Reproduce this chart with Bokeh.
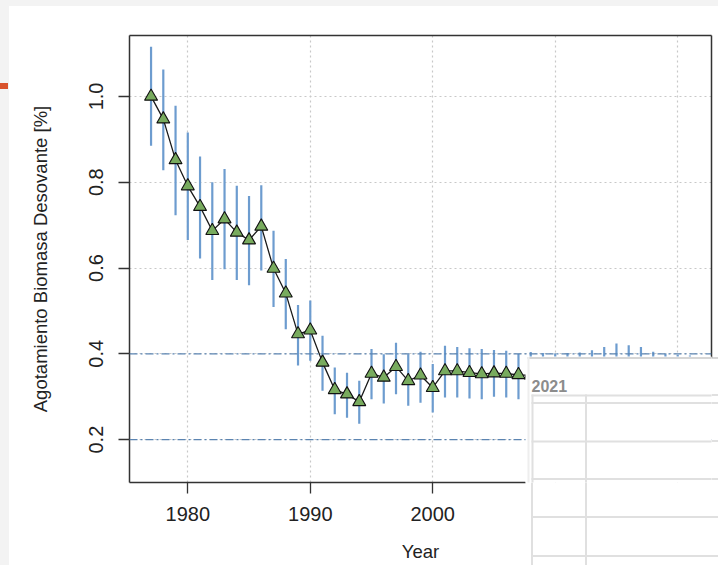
from bokeh.plotting import figure
from bokeh.models import (ColumnDataSource, FixedTicker, Span, BoxAnnotation, Label,
                          Range1d, LinearAxis)
from bokeh.embed import file_html
from bokeh.resources import INLINE

years = list(range(1977, 2022))
depletion = [1.000, 0.947, 0.852, 0.791, 0.743, 0.687, 0.714, 0.683, 0.665, 0.697,
             0.599, 0.541, 0.446, 0.455, 0.380, 0.316, 0.306, 0.288, 0.354, 0.345,
             0.370, 0.337, 0.350, 0.321, 0.360, 0.360, 0.356, 0.353, 0.355, 0.354,
             0.351, 0.350, 0.348, 0.347, 0.348, 0.350, 0.352, 0.358, 0.363, 0.361,
             0.357, 0.350, 0.345, 0.342, 0.340]
lower = [0.885, 0.828, 0.723, 0.665, 0.622, 0.572, 0.597, 0.572, 0.560, 0.594,
         0.509, 0.457, 0.373, 0.384, 0.314, 0.259, 0.251, 0.237, 0.294, 0.284,
         0.306, 0.279, 0.286, 0.263, 0.298, 0.298, 0.296, 0.294, 0.300, 0.298,
         0.294, 0.292, 0.290, 0.288, 0.289, 0.291, 0.292, 0.298, 0.301, 0.300,
         0.297, 0.292, 0.287, 0.285, 0.283]
upper = [1.116, 1.063, 0.978, 0.916, 0.860, 0.800, 0.831, 0.792, 0.768, 0.793,
         0.687, 0.621, 0.514, 0.524, 0.442, 0.368, 0.356, 0.337, 0.411, 0.399,
         0.426, 0.399, 0.405, 0.376, 0.419, 0.416, 0.413, 0.411, 0.409, 0.407,
         0.400, 0.404, 0.402, 0.401, 0.402, 0.403, 0.408, 0.416, 0.424, 0.420,
         0.416, 0.405, 0.400, 0.398, 0.396]
reference_levels = [0.4, 0.2]
x_ticks = [1980, 1990, 2000, 2010, 2020]
y_ticks = [0.2, 0.4, 0.6, 0.8, 1.0]
y_tick_labels = ["0.2", "0.4", "0.6", "0.8", "1.0"]
x_label = "Year"
y_label = "Agotamiento Biomasa Desovante [%]"
overlay_title = "2021"

src = ColumnDataSource(dict(year=years, dep=depletion, lo=lower, hi=upper))

FONT = "Liberation Sans"
X0, X1 = 1975.24, 2022.76
Y0, Y1 = 0.100, 1.142
PANEL_X = 2007.55   # where the overlapping table panel starts (bottom edge hidden beyond)

# background of the page (behind the transparent plot border)
layers = []
def css_rect(x, y, w, h, color):
    layers.append(f"linear-gradient({color},{color}) {x}px {y}px / {w}px {h}px no-repeat")

css_rect(0, 83, 8, 6, "#d9532c")
css_rect(0, 0, 9, 565, "#f3f3f3")
css_rect(0, 0, 718, 6, "#f3f3f3")
css_rect(527, 356.5, 191, 2, "#d6d6d6")
for yy in [394, 401.5, 440, 477.5, 516, 554.5]:
    css_rect(531, yy, 187, 2, "#e0e0e0")
for xx in [531, 584.5]:
    css_rect(xx, 394, 2, 171, "#e0e0e0")

p = figure(width=718, height=565, output_backend="svg", toolbar_location=None,
           x_range=Range1d(X0, X1), y_range=Range1d(Y0, Y1),
           min_border_left=129, min_border_right=7, min_border_top=35, min_border_bottom=83)
p.background_fill_color = "white"
p.border_fill_color = None
p.outline_line_color = None
p.styles = {"background": ", ".join(layers) + ", #ffffff"}

for ax in (p.xaxis[0], p.yaxis[0]):
    ax.axis_line_color = "#333333"
    ax.axis_line_width = 1.5
    ax.major_tick_in = 0
    ax.major_tick_out = 11
    ax.major_tick_line_color = "#333333"
    ax.major_tick_line_width = 1.3
    ax.minor_tick_line_color = None
    ax.major_label_text_font = FONT
    ax.major_label_text_font_size = "20px"
    ax.major_label_text_color = "#222222"
    ax.axis_label_text_font = FONT
    ax.axis_label_text_font_size = "18.5px"
    ax.axis_label_text_font_style = "normal"
    ax.axis_label_text_color = "#222222"

p.xaxis.ticker = FixedTicker(ticks=[t for t in x_ticks if t < PANEL_X])
p.xgrid.ticker = FixedTicker(ticks=x_ticks)
p.xaxis.bounds = (X0, PANEL_X)
p.yaxis.ticker = FixedTicker(ticks=y_ticks)
p.ygrid.ticker = FixedTicker(ticks=y_ticks)
p.yaxis.major_label_overrides = dict(zip(y_ticks, y_tick_labels))
p.yaxis.major_label_orientation = "vertical"
p.xaxis.axis_label = x_label
p.yaxis.axis_label = y_label
p.xaxis.major_label_standoff = 13
p.xaxis.axis_label_standoff = 17
p.yaxis.major_label_standoff = 15
p.yaxis.axis_label_standoff = 36

# top and right edges of the box
top_ax = LinearAxis(ticker=FixedTicker(ticks=[]), axis_line_color="#333333", axis_line_width=1.5,
                    major_tick_line_color=None, minor_tick_line_color=None)
right_ax = LinearAxis(ticker=FixedTicker(ticks=[]), axis_line_color="#333333", axis_line_width=1.5,
                      major_tick_line_color=None, minor_tick_line_color=None, bounds=(0.391, Y1))
p.add_layout(top_ax, "above")
p.add_layout(right_ax, "right")

for g in (p.xgrid[0], p.ygrid[0]):
    g.grid_line_color = "#c8c8c8"
    g.grid_line_dash = "2 3"
    g.grid_line_width = 1.2

for lvl in reference_levels:
    p.add_layout(Span(location=lvl, dimension="width", line_color="#5b84b1",
                      line_width=1.3, line_dash="8 3 2 3"))

p.segment(x0="year", y0="lo", x1="year", y1="hi", source=src,
          line_color="#6d9ccf", line_width=2.2)
p.line(x="year", y="dep", source=src, line_color="#1a1a1a", line_width=1.3)
p.scatter(x="year", y="dep", source=src, marker="triangle", size=13,
          fill_color="#78ab5e", line_color="#111111", line_width=1.1)

# overlapping table panel (decoration, canvas pixels; inside the frame)
def box(l, r, t, b, color):
    p.add_layout(BoxAnnotation(left=l, right=r, top=t, bottom=b,
                               left_units="canvas", right_units="canvas",
                               top_units="canvas", bottom_units="canvas",
                               fill_color=color, fill_alpha=1.0, line_color=None,
                               level="overlay"))

box(525, 718, 356, 565, "#ffffff")
box(527, 718, 356.5, 358.5, "#d6d6d6")
box(527, 529, 356.5, 565, "#eeeeee")
for yy in [394, 401.5, 440, 477.5, 516, 554.5]:
    box(531, 718, yy, yy + 2, "#e0e0e0")
for xx in [531, 584.5]:
    box(xx, xx + 2, 394, 565, "#e0e0e0")
p.add_layout(Label(x=531, y=391, x_units="canvas", y_units="canvas", text=overlay_title,
                   text_font=FONT, text_font_size="16px", text_font_style="bold",
                   text_color="#8c8c8c", level="overlay"))

open("out.html", "w").write(file_html(p, INLINE))
